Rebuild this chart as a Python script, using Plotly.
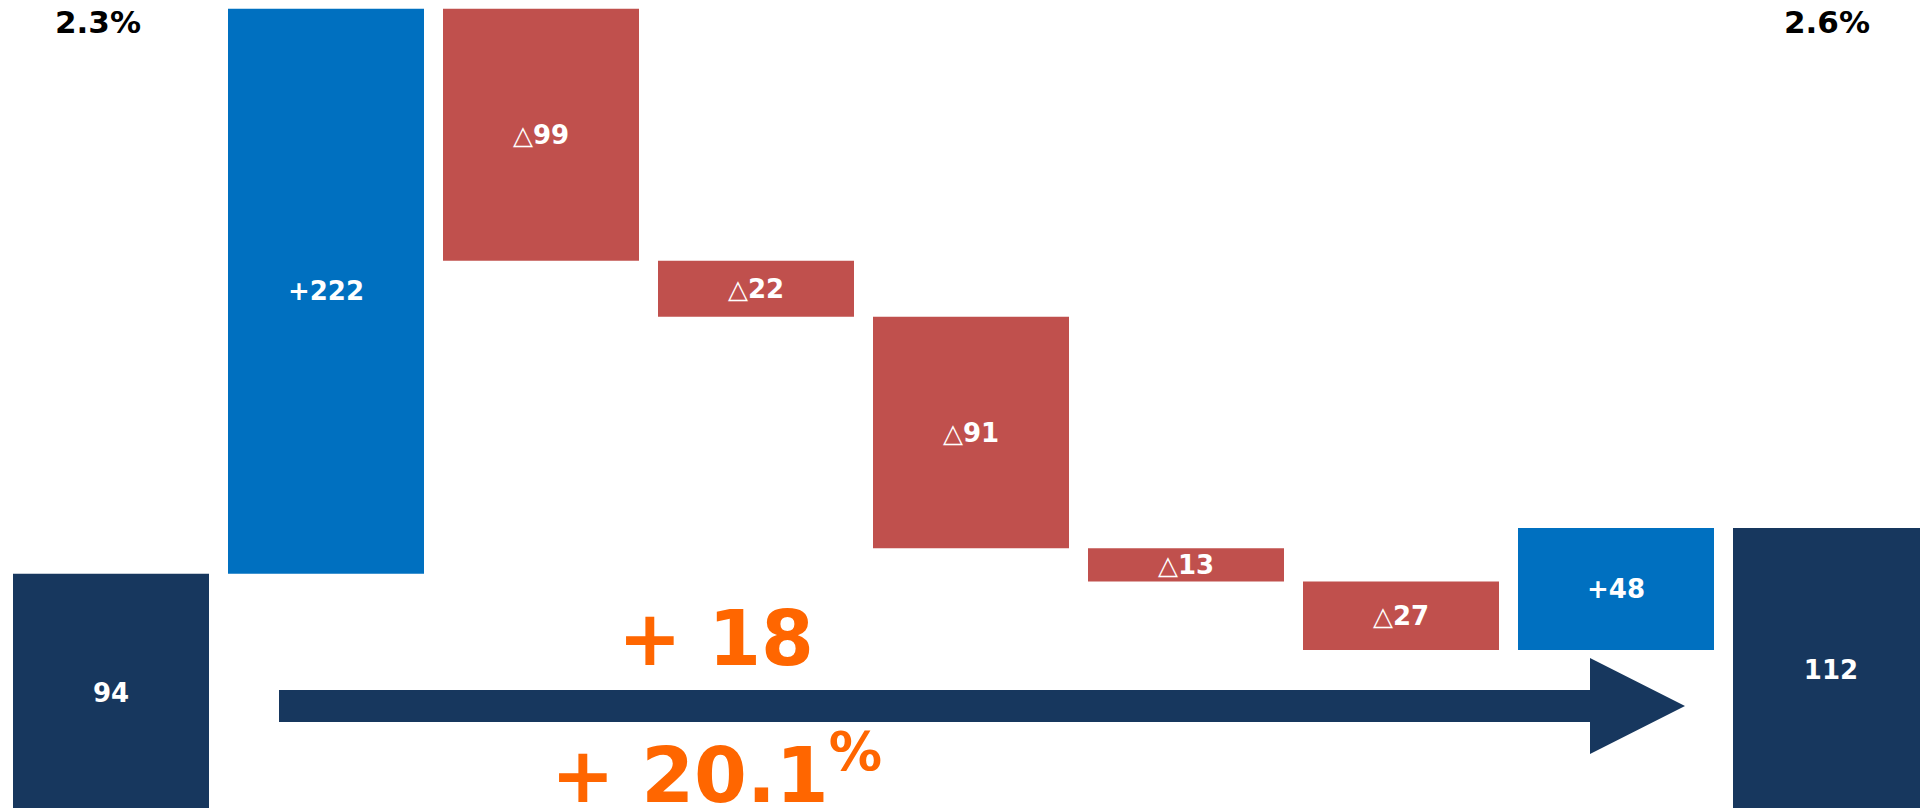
import plotly.graph_objects as go

# ---- data ----
categories = ["前期", "増益要因1", "減益要因1", "減益要因2", "減益要因3", "減益要因4", "減益要因5", "増益要因2", "当期"]
measures = ["absolute", "relative", "relative", "relative", "relative", "relative", "relative", "relative", "total"]
values = [94, 222, -99, -22, -91, -13, -27, 48, 112]
rate_labels = ["2.3%", "2.6%"]
diff_label = "+ 18"
growth_value = "+ 20.1"
growth_unit = "%"

# ---- styles ----
W, H = 1920, 808
NAVY = "#17375E"
BLUE = "#0070C0"
RED = "#C0504D"
ORANGE = "#FF6600"
FONT = "DejaVu Sans"


def fmt(m, v):
    if m == "relative":
        if v < 0:
            return "△<b>%d</b>" % abs(v)
        return "<b>+%d</b>" % v
    return "<b>%d</b>" % v


texts = [fmt(m, v) for m, v in zip(measures, values)]

fig = go.Figure(go.Waterfall(
    x=categories,
    y=values,
    measure=measures,
    text=texts,
    textposition="inside",
    insidetextanchor="middle",
    constraintext="none",
    textfont=dict(family=FONT, size=26, color="white"),
    increasing=dict(marker=dict(color=BLUE, line=dict(width=0))),
    decreasing=dict(marker=dict(color=RED, line=dict(width=0))),
    totals=dict(marker=dict(color=NAVY, line=dict(width=0))),
    connector=dict(visible=False),
    hoverinfo="skip",
))

# pixel geometry (bar pitch 215 px, first bar centre at 111 px, zero at y=813 px, 2.545 px/unit)
pitch = 215.0
c0 = 111.0
x0 = -c0 / pitch
y_zero = 813.0
ppu = 2.545


def px(x):
    return x / W


def py(y):
    return 1 - y / H


# arrow
shaft_l, shaft_r, shaft_t, shaft_b = 279, 1590, 690, 722
head_t, head_b, tip_x, tip_y = 658, 754, 1685, 706
path = "M {} {} L {} {} L {} {} L {} {} L {} {} L {} {} L {} {} Z".format(
    px(shaft_l), py(shaft_t), px(shaft_r), py(shaft_t), px(shaft_r), py(head_t),
    px(tip_x), py(tip_y), px(shaft_r), py(head_b), px(shaft_r), py(shaft_b),
    px(shaft_l), py(shaft_b))
fig.add_shape(type="path", path=path, xref="paper", yref="paper",
              fillcolor=NAVY, line=dict(width=0), layer="above")

annos = [
    dict(text="<b>%s</b>" % rate_labels[0], x=px(98), y=py(22), font=dict(size=31, color="black")),
    dict(text="<b>%s</b>" % rate_labels[1], x=px(1827), y=py(22), font=dict(size=31, color="black")),
    dict(text="<b>%s</b>" % diff_label, x=px(716), y=py(638), font=dict(size=76, color=ORANGE)),
    dict(text="<b>%s<sup>%s</sup></b>" % (growth_value, growth_unit), x=px(716), y=py(770),
         font=dict(size=76, color=ORANGE)),
]
for a in annos:
    a["font"]["family"] = FONT
    fig.add_annotation(xref="paper", yref="paper", xanchor="center", yanchor="middle",
                       showarrow=False, **a)

fig.update_layout(
    width=W, height=H,
    margin=dict(l=0, r=0, t=0, b=0),
    paper_bgcolor="white", plot_bgcolor="white",
    showlegend=False,
    waterfallgap=1 - 196 / 215,
    xaxis=dict(range=[x0, x0 + W / pitch], visible=False, fixedrange=True),
    yaxis=dict(range=[(y_zero - H) / ppu, y_zero / ppu], visible=False, fixedrange=True),
)

fig.write_html("out.html", config={"displayModeBar": False})
